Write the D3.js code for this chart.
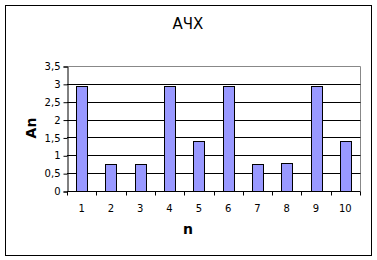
<!DOCTYPE html>
<html>
<head>
<meta charset="utf-8">
<script src="https://d3js.org/d3.v7.min.js"></script>
<style>
  body { margin:0; background:#fff; }
  text { font-family: "DejaVu Sans", sans-serif; fill:#000; }
  .tick text { font-size: 10px; }
  .grid line { stroke:#000; }
</style>
</head>
<body>
<script>
var categories = ["1","2","3","4","5","6","7","8","9","10"];
var values = [2.93, 0.76, 0.76, 2.93, 1.4, 2.93, 0.76, 0.78, 2.93, 1.4];
var yTicks = [0, 0.5, 1, 1.5, 2, 2.5, 3, 3.5];

var W = 377, H = 260;
var m = {left: 67, right: 17, top: 66, bottom: 69};

var svg = d3.select("body").append("svg")
    .attr("width", W).attr("height", H);

svg.append("rect")
    .attr("x", 5.5).attr("y", 5.5)
    .attr("width", 366).attr("height", 250)
    .attr("fill", "#fff").attr("stroke", "#000");

var x = d3.scaleBand().domain(categories).range([m.left, W - m.right]);
var y = d3.scaleLinear().domain([0, 3.5]).range([H - m.bottom, m.top]);

var fmt = function(d) { return String(d).replace(".", ","); };

// plot frame (top/right grey)
svg.append("path")
    .attr("d", "M" + (m.left + 0.5) + "," + (m.top + 0.5) + "H" + (W - m.right + 0.5) + "V" + (H - m.bottom))
    .attr("fill", "none").attr("stroke", "#888");

// gridlines
svg.append("g").attr("class", "grid")
  .selectAll("line").data(yTicks.slice(1, -1)).enter().append("line")
    .attr("x1", m.left).attr("x2", W - m.right + 0.5)
    .attr("y1", function(d) { return Math.round(y(d)) + 0.5; })
    .attr("y2", function(d) { return Math.round(y(d)) + 0.5; });

// bars
var bw = 11;
svg.append("g").selectAll("rect").data(values).enter().append("rect")
    .attr("x", function(d, i) { return Math.round(x(categories[i]) + x.bandwidth() / 2 - bw / 2) + 0.5; })
    .attr("y", function(d) { return Math.round(y(d)) + 0.5; })
    .attr("width", bw)
    .attr("height", function(d) { return Math.round(y(0)) - Math.round(y(d)); })
    .attr("fill", "#9999ff").attr("stroke", "#000");

// y axis
var gy = svg.append("g")
    .attr("transform", "translate(" + (m.left + 0.5) + ",0.5)")
    .call(d3.axisLeft(y).tickValues(yTicks).tickFormat(fmt).tickSize(4).tickPadding(3));
gy.select(".domain").attr("stroke", "#000");
gy.selectAll(".tick line").attr("stroke", "#000");

// x axis: ticks at category boundaries
var gx = svg.append("g").attr("transform", "translate(0," + (Math.round(y(0)) + 0.5) + ")");
gx.append("line").attr("x1", m.left).attr("x2", W - m.right + 0.5).attr("stroke", "#000");
var bounds = categories.map(function(c) { return x(c); }).concat([x.range()[1]]);
gx.selectAll(".tk").data(bounds).enter().append("line")
    .attr("x1", function(d) { return Math.round(d) + 0.5; })
    .attr("x2", function(d) { return Math.round(d) + 0.5; })
    .attr("y1", 0).attr("y2", 4).attr("stroke", "#000");
gx.selectAll(".lbl").data(categories).enter().append("text")
    .attr("x", function(d) { return x(d) + x.bandwidth() / 2; })
    .attr("y", 20)
    .attr("text-anchor", "middle")
    .style("font-size", "10px")
    .text(function(d) { return d; });

// titles
svg.append("text").attr("x", 188).attr("y", 29)
    .attr("text-anchor", "middle").style("font-size", "15px").text("АЧХ");
svg.append("text").attr("x", 188).attr("y", 234)
    .attr("text-anchor", "middle").style("font-size", "14px").style("font-weight", "bold").text("n");
svg.append("text")
    .attr("transform", "translate(36,128) rotate(-90)")
    .attr("text-anchor", "middle").style("font-size", "14px").style("font-weight", "bold").text("An");
</script>
</body>
</html>
